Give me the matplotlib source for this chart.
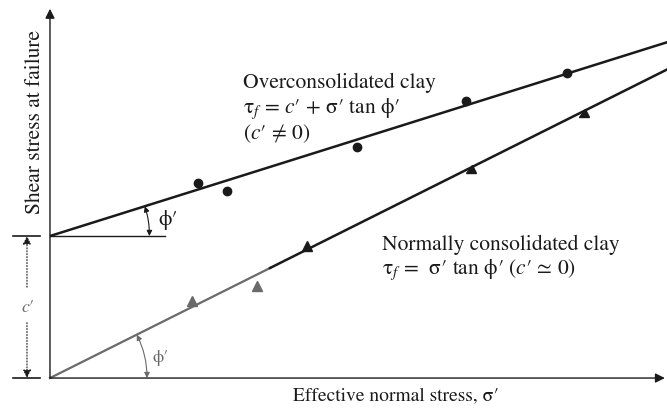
import numpy as np
import matplotlib.pyplot as plt
from matplotlib.markers import MarkerStyle
from matplotlib.transforms import Affine2D
from matplotlib.patches import FancyArrowPatch

plt.rcParams['font.family'] = ['STIXGeneral', 'DejaVu Serif']
plt.rcParams['mathtext.fontset'] = 'stix'

# Failure envelopes, stresses in units of c'
c_oc = 1.0
tan_phi_oc = 0.314
tan_phi_nc = 0.50

# Overconsolidated clay test results (sigma', tau_f)
oc_sigma = [1.04, 1.25, 2.16, 2.93, 3.64]
oc_tau = [1.37, 1.32, 1.63, 1.95, 2.15]

# Normally consolidated clay test results
nc_sigma = [1.00, 1.46, 1.81, 2.96, 3.75]
nc_tau = [0.54, 0.65, 0.93, 1.46, 1.85]

ink = '#1a1a1a'
grey = '#6a6a6a'
fs = 15.5

fig = plt.figure(figsize=(6.67, 4.10), dpi=100)
ax = fig.add_axes([0, 0, 1, 1])
ax.set_xlim(-0.352, 4.345)
ax.set_ylim(-0.218, 2.669)
ax.axis('off')

# axes with arrow heads
axis_arrow = dict(arrowstyle='-|>', lw=1.0, color=ink, mutation_scale=14,
                  shrinkA=0, shrinkB=0)
ax.annotate('', xy=(0, 2.60), xytext=(0, 0), arrowprops=axis_arrow)
ax.annotate('', xy=(4.33, 0), xytext=(0, 0), arrowprops=axis_arrow)

# overconsolidated envelope
x = np.array([0, 4.4])
ax.plot(x, c_oc + tan_phi_oc * x, color=ink, lw=1.8, solid_capstyle='butt')
ax.plot(oc_sigma, oc_tau, 'o', color=ink, ms=6)

# normally consolidated envelope (lighter near the origin)
split = 1.55
ax.plot([0, split], [0, tan_phi_nc * split], color=grey, lw=1.6)
ax.plot([split, 4.4], [tan_phi_nc * split, tan_phi_nc * 4.4], color=ink, lw=1.8)
ax.plot(nc_sigma[:2], nc_tau[:2], '^', color=grey, ms=6.5)
ax.plot(nc_sigma[2:3], nc_tau[2:3], '^', color=ink, ms=6.5)
along = MarkerStyle('<', transform=Affine2D().rotate_deg(np.degrees(np.arctan(tan_phi_nc))))
ax.plot(nc_sigma[3:], nc_tau[3:], linestyle='none', marker=along, color=ink, ms=6.5)

# horizontal reference at c' and the level ticks on the left
ax.plot([0, 0.81], [c_oc, c_oc], color=ink, lw=1.0)
ax.plot([-0.26, -0.07], [c_oc, c_oc], color=ink, lw=1.2)
ax.plot([-0.26, -0.07], [0, 0], color=ink, lw=1.2)

# c' dimension
xc = -0.162
head = dict(arrowstyle='-|>', lw=0.8, color=ink, ls=':', mutation_scale=12,
            shrinkA=0, shrinkB=0)
ax.annotate('', xy=(xc, c_oc), xytext=(xc, 0.64), arrowprops=head)
ax.annotate('', xy=(xc, 0), xytext=(xc, 0.39), arrowprops=head)
ax.text(xc + 0.005, 0.5, "$c$′", fontsize=13, color=grey, ha='center', va='center')

# friction angle arcs
r1 = 0.70
t1 = np.arctan(tan_phi_oc)
ax.add_patch(FancyArrowPatch((r1, c_oc), (r1 * np.cos(t1), c_oc + r1 * np.sin(t1)),
                             arrowstyle='<|-|>', connectionstyle='arc3,rad=0.08',
                             mutation_scale=8, lw=0.8, color=ink, shrinkA=0, shrinkB=0))
ax.text(0.76, 1.12, "ϕ′", fontsize=fs, color=ink, ha='left', va='center')

r2 = 0.683
t2 = np.arctan(tan_phi_nc)
ax.add_patch(FancyArrowPatch((r2, 0), (r2 * np.cos(t2), r2 * np.sin(t2)),
                             arrowstyle='<|-|>', connectionstyle='arc3,rad=0.12',
                             mutation_scale=8, lw=0.8, color=grey, shrinkA=0, shrinkB=0))
ax.text(0.72, 0.15, "ϕ′", fontsize=13, color=grey, ha='left', va='center')

# annotations
ax.text(1.36, 2.085, 'Overconsolidated clay', fontsize=fs, color=ink, va='center')
ax.text(1.36, 1.90, "τ$_f$ = $c$′ + σ′ tan ϕ′", fontsize=fs, color=ink, va='center')
ax.text(1.36, 1.73, "($c$′ ≠ 0)", fontsize=fs, color=ink, va='center')

ax.text(2.34, 0.944, 'Normally consolidated clay', fontsize=fs, color=ink, va='center')
ax.text(2.34, 0.768, "τ$_f$ =  σ′ tan ϕ′ ($c$′ ≃ 0)", fontsize=fs, color=ink, va='center')

ax.text(2.44, -0.12, "Effective normal stress, σ′", fontsize=14,
        color=ink, ha='center', va='center')
ax.text(-0.106, 1.81, 'Shear stress at failure', fontsize=fs, color=ink,
        rotation=90, ha='center', va='center')

fig.savefig('out.png', dpi=100)
